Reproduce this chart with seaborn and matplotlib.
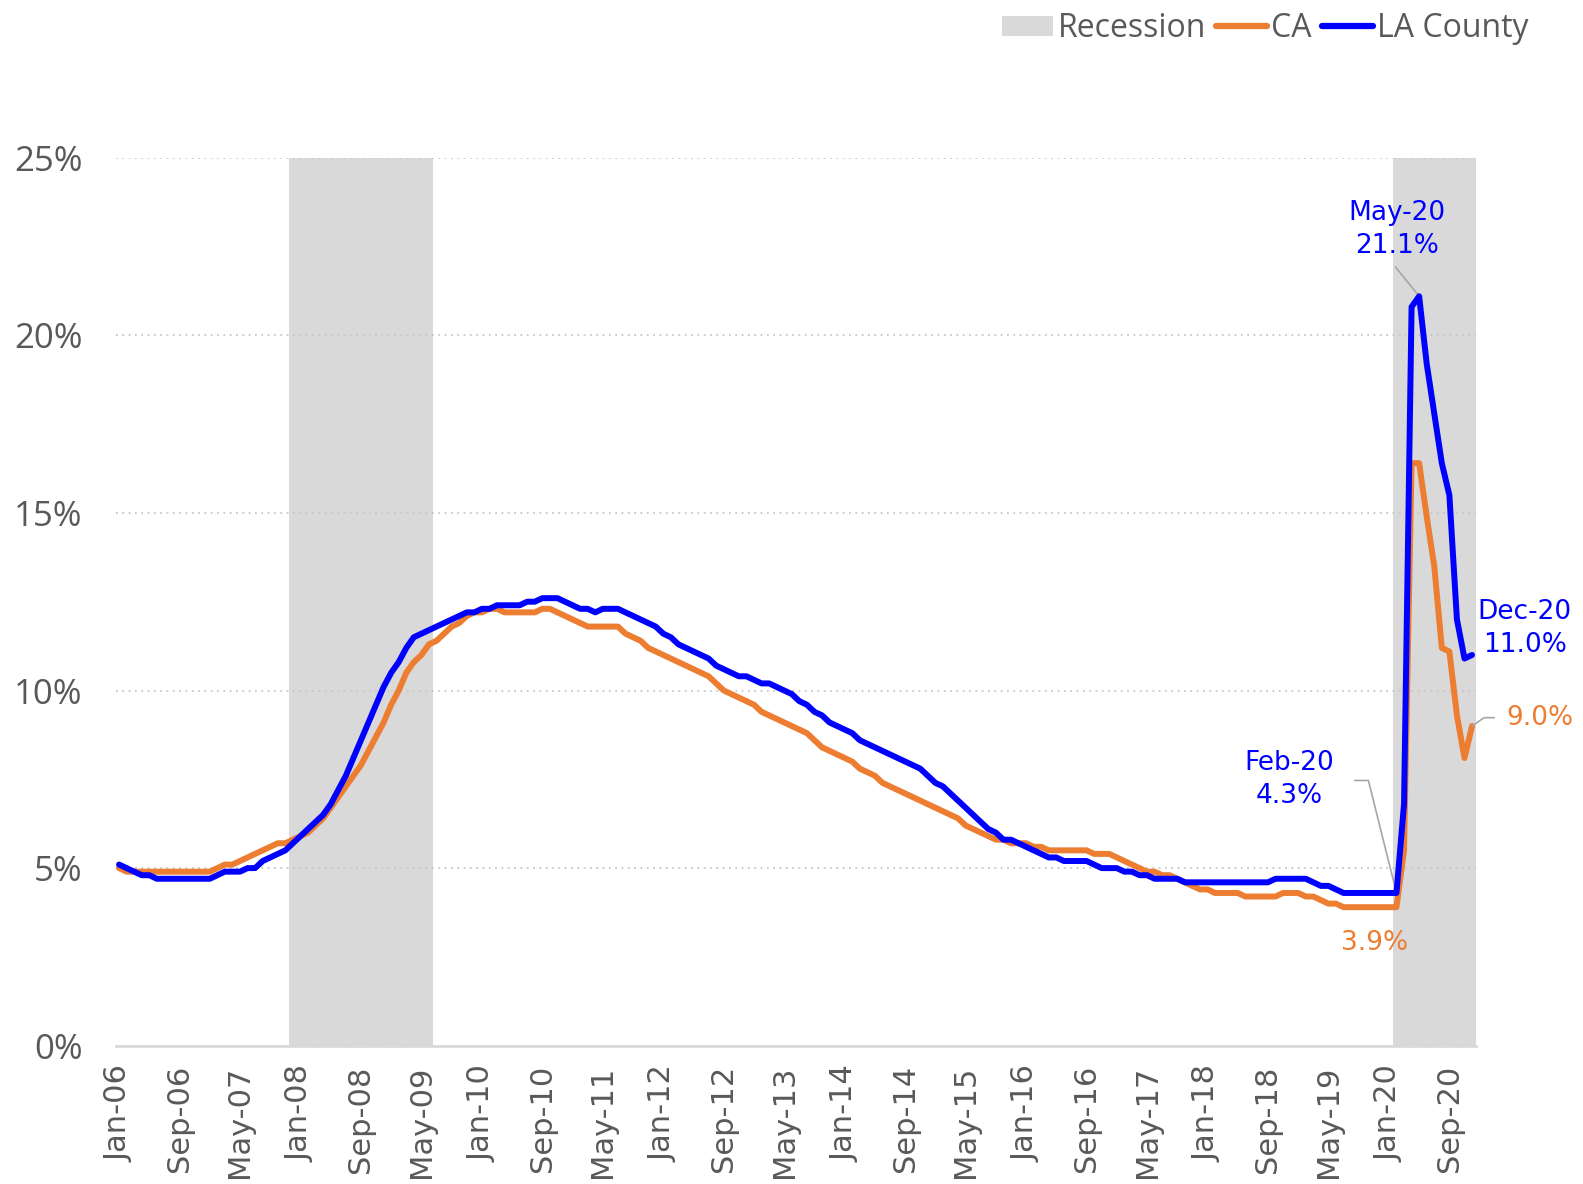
import pandas as pd
import matplotlib.pyplot as plt
import seaborn as sns
import numpy as np
from matplotlib.patches import Patch
from matplotlib.lines import Line2D

# monthly unemployment rate, Jan-06 .. Dec-20
months = pd.date_range("2006-01-01", "2020-12-01", freq="MS")

la_county = [
    5.1, 5.0, 4.9, 4.8, 4.8, 4.7, 4.7, 4.7, 4.7, 4.7, 4.7, 4.7,          # 2006
    4.7, 4.8, 4.9, 4.9, 4.9, 5.0, 5.0, 5.2, 5.3, 5.4, 5.5, 5.7,          # 2007
    5.9, 6.1, 6.3, 6.5, 6.8, 7.2, 7.6, 8.1, 8.6, 9.1, 9.6, 10.1,         # 2008
    10.5, 10.8, 11.2, 11.5, 11.6, 11.7, 11.8, 11.9, 12.0, 12.1, 12.2, 12.2,  # 2009
    12.3, 12.3, 12.4, 12.4, 12.4, 12.4, 12.5, 12.5, 12.6, 12.6, 12.6, 12.5,  # 2010
    12.4, 12.3, 12.3, 12.2, 12.3, 12.3, 12.3, 12.2, 12.1, 12.0, 11.9, 11.8,  # 2011
    11.6, 11.5, 11.3, 11.2, 11.1, 11.0, 10.9, 10.7, 10.6, 10.5, 10.4, 10.4,  # 2012
    10.3, 10.2, 10.2, 10.1, 10.0, 9.9, 9.7, 9.6, 9.4, 9.3, 9.1, 9.0,     # 2013
    8.9, 8.8, 8.6, 8.5, 8.4, 8.3, 8.2, 8.1, 8.0, 7.9, 7.8, 7.6,          # 2014
    7.4, 7.3, 7.1, 6.9, 6.7, 6.5, 6.3, 6.1, 6.0, 5.8, 5.8, 5.7,          # 2015
    5.6, 5.5, 5.4, 5.3, 5.3, 5.2, 5.2, 5.2, 5.2, 5.1, 5.0, 5.0,          # 2016
    5.0, 4.9, 4.9, 4.8, 4.8, 4.7, 4.7, 4.7, 4.7, 4.6, 4.6, 4.6,          # 2017
    4.6, 4.6, 4.6, 4.6, 4.6, 4.6, 4.6, 4.6, 4.6, 4.7, 4.7, 4.7,          # 2018
    4.7, 4.7, 4.6, 4.5, 4.5, 4.4, 4.3, 4.3, 4.3, 4.3, 4.3, 4.3,          # 2019
    4.3, 4.3, 6.8, 20.8, 21.1, 19.2, 17.8, 16.4, 15.5, 12.0, 10.9, 11.0,  # 2020
]

ca = [
    5.0, 4.9, 4.9, 4.9, 4.9, 4.9, 4.9, 4.9, 4.9, 4.9, 4.9, 4.9,          # 2006
    4.9, 5.0, 5.1, 5.1, 5.2, 5.3, 5.4, 5.5, 5.6, 5.7, 5.7, 5.8,          # 2007
    5.9, 6.0, 6.2, 6.4, 6.7, 7.0, 7.3, 7.6, 7.9, 8.3, 8.7, 9.1,          # 2008
    9.6, 10.0, 10.5, 10.8, 11.0, 11.3, 11.4, 11.6, 11.8, 11.9, 12.1, 12.2,  # 2009
    12.2, 12.3, 12.3, 12.2, 12.2, 12.2, 12.2, 12.2, 12.3, 12.3, 12.2, 12.1,  # 2010
    12.0, 11.9, 11.8, 11.8, 11.8, 11.8, 11.8, 11.6, 11.5, 11.4, 11.2, 11.1,  # 2011
    11.0, 10.9, 10.8, 10.7, 10.6, 10.5, 10.4, 10.2, 10.0, 9.9, 9.8, 9.7,  # 2012
    9.6, 9.4, 9.3, 9.2, 9.1, 9.0, 8.9, 8.8, 8.6, 8.4, 8.3, 8.2,          # 2013
    8.1, 8.0, 7.8, 7.7, 7.6, 7.4, 7.3, 7.2, 7.1, 7.0, 6.9, 6.8,          # 2014
    6.7, 6.6, 6.5, 6.4, 6.2, 6.1, 6.0, 5.9, 5.8, 5.8, 5.7, 5.7,          # 2015
    5.7, 5.6, 5.6, 5.5, 5.5, 5.5, 5.5, 5.5, 5.5, 5.4, 5.4, 5.4,          # 2016
    5.3, 5.2, 5.1, 5.0, 4.9, 4.9, 4.8, 4.8, 4.7, 4.6, 4.5, 4.4,          # 2017
    4.4, 4.3, 4.3, 4.3, 4.3, 4.2, 4.2, 4.2, 4.2, 4.2, 4.3, 4.3,          # 2018
    4.3, 4.2, 4.2, 4.1, 4.0, 4.0, 3.9, 3.9, 3.9, 3.9, 3.9, 3.9,          # 2019
    3.9, 3.9, 5.5, 16.4, 16.4, 14.9, 13.5, 11.2, 11.1, 9.3, 8.1, 9.0,    # 2020
]

recession_periods = [("2007-12-01", "2009-06-01"), ("2020-02-01", "2020-12-01")]

ORANGE = "#ED7D31"
BLUE = "#0000FF"
GREY = "#D9D9D9"
TXT = "#595959"

df = pd.DataFrame({"idx": np.arange(len(months)), "CA": ca, "LA County": la_county})
df["recession"] = 0.0
for start, end in recession_periods:
    df.loc[(months >= start) & (months <= end), "recession"] = 25.0

sns.set_style("white")
narrow = ["Open Sans", "DejaVu Sans"]
plt.rcParams["font.family"] = ["DejaVu Sans"]

fig = plt.figure(figsize=(15.83, 11.84), dpi=100)
ax = fig.add_axes([0.0733, 0.1168, 0.859, 0.750])

ax.bar(df["idx"], df["recession"], width=1.0, color=GREY, zorder=0, linewidth=0)
sns.lineplot(data=df, x="idx", y="CA", color=ORANGE, lw=4.3, ax=ax, zorder=3)
sns.lineplot(data=df, x="idx", y="LA County", color=BLUE, lw=4.3, ax=ax, zorder=4)

ax.set_xlim(-0.4, 179.5)
ax.set_ylim(0, 25)
ax.set_xlabel("")
ax.set_ylabel("")

ax.set_yticks([0, 5, 10, 15, 20, 25])
ax.set_yticklabels([f"{v}%" for v in [0, 5, 10, 15, 20, 25]], family=narrow,
                   fontsize=25, color=TXT)
tick_idx = df["idx"][::8]
ax.set_xticks(tick_idx)
ax.set_xticklabels(months[::8].strftime("%b-%y"), rotation=90, fontsize=22, color=TXT)
ax.tick_params(axis="y", length=0, pad=24)
ax.tick_params(axis="x", length=0, pad=14)

ax.yaxis.grid(True, linestyle=(0, (1, 2.5)), color="#C8C8C8", lw=1.3)
ax.xaxis.grid(False)
ax.set_axisbelow(True)
for s in ["top", "right", "left"]:
    ax.spines[s].set_visible(False)
ax.spines["bottom"].set_color(GREY)
ax.spines["bottom"].set_linewidth(2)

# annotations
i_feb = months.get_loc(pd.Timestamp("2020-02-01"))
i_may = months.get_loc(pd.Timestamp("2020-05-01"))
i_dec = months.get_loc(pd.Timestamp("2020-12-01"))
lead = dict(arrowstyle="-", color="#A6A6A6", lw=1.2, shrinkA=0, shrinkB=0)
fs = 19

ax.annotate(f"May-20\n{la_county[i_may]:.1f}%", xy=(i_may, la_county[i_may]),
            xytext=(-16, 48), textcoords="offset points", ha="center", va="center",
            color=BLUE, fontsize=fs, linespacing=1.35)
ax.annotate("", xy=(i_may, la_county[i_may]), xytext=(-17, 21),
            textcoords="offset points", arrowprops=lead)

ax.annotate(f"Feb-20\n{la_county[i_feb]:.1f}%", xy=(i_feb, la_county[i_feb]),
            xytext=(-77, 82), textcoords="offset points", ha="center", va="center",
            color=BLUE, fontsize=fs, linespacing=1.35)
ax.annotate("", xy=(i_feb, la_county[i_feb]), xytext=(-30, 81),
            textcoords="offset points",
            arrowprops=dict(lead, connectionstyle="angle,angleA=0,angleB=104,rad=0"))

ax.annotate(f"{ca[i_feb]:.1f}%", xy=(i_feb, ca[i_feb]), xytext=(-16, -26),
            textcoords="offset points", ha="center", va="center",
            color=ORANGE, fontsize=fs)

ax.annotate(f"Dec-20\n{la_county[i_dec]:.1f}%", xy=(i_dec, la_county[i_dec]),
            xytext=(38, 19), textcoords="offset points", ha="center", va="center",
            color=BLUE, fontsize=fs, linespacing=1.35)

ax.annotate(f"{ca[i_dec]:.1f}%", xy=(i_dec, ca[i_dec]), xytext=(25, 6),
            textcoords="offset points", ha="left", va="center",
            color=ORANGE, fontsize=fs)
ax.annotate("", xy=(i_dec, ca[i_dec]), xytext=(16, 6), textcoords="offset points",
            arrowprops=dict(lead, connectionstyle="angle,angleA=0,angleB=35,rad=0"))

handles = [Patch(facecolor=GREY, edgecolor="none"),
           Line2D([], [], color=ORANGE, lw=4.5, solid_capstyle="round"),
           Line2D([], [], color=BLUE, lw=4.5, solid_capstyle="round")]
leg = fig.legend(handles, ["Recession", "CA", "LA County"], loc="center right",
                 bbox_to_anchor=(0.984, 0.976), ncol=3, frameon=False,
                 prop={"family": narrow, "size": 23}, handlelength=1.6,
                 handleheight=0.6, handletextpad=0.15, columnspacing=0.3)
for t in leg.get_texts():
    t.set_color(TXT)

fig.savefig("out.png", dpi=100)
